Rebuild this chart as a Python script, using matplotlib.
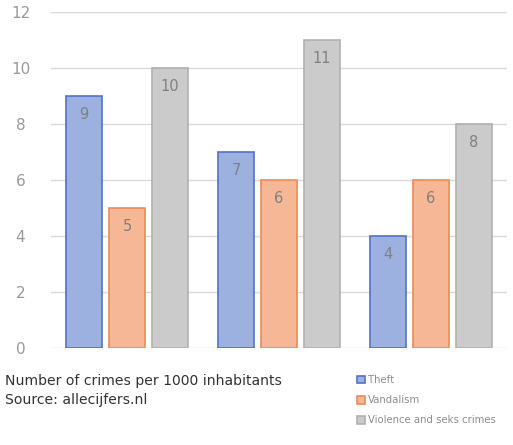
import numpy as np
import matplotlib.pyplot as plt

groups = [0, 1, 2]
theft = [9, 7, 4]
vandalism = [5, 6, 6]
violence = [10, 11, 8]
series_names = ['Theft', 'Vandalism', 'Violence and seks crimes']
yticks = [0, 2, 4, 6, 8, 10, 12]

fills = ['#9db1e0', '#f6b796', '#cbcbcb']
edges = ['#4f74c2', '#ee8a55', '#b0b0b0']

fig = plt.figure(figsize=(5.13, 4.45), dpi=100)
ax = fig.add_axes([51 / 513, 97 / 445, 456 / 513, 336 / 445])

width = 0.235
offset = 0.283
x = np.array(groups)
for i, (vals, name) in enumerate(zip([theft, vandalism, violence], series_names)):
    bars = ax.bar(x + (i - 1) * offset, vals, width, color=fills[i],
                  edgecolor=edges[i], linewidth=1.2, label=name, zorder=3)
    for b, v in zip(bars, vals):
        ax.text(b.get_x() + b.get_width() / 2, v - 0.4, str(v),
                ha='center', va='top', fontsize=10.5, color='#808080', zorder=4)

ax.set_xlim(-0.5, 2.5)
ax.set_ylim(0, 12)
ax.set_yticks(yticks)
ax.set_xticks([])
ax.tick_params(axis='y', length=0, pad=22, labelsize=11, labelcolor='#999999')
for lab in ax.get_yticklabels():
    lab.set_horizontalalignment('center')
ax.grid(axis='y', color='#d9d9d9', linewidth=1, zorder=0)
for s in ax.spines.values():
    s.set_visible(False)

fig.text(5 / 513, 1 - 385 / 445, 'Number of crimes per 1000 inhabitants',
         fontsize=10.1, color='#333333', va='baseline')
fig.text(5 / 513, 1 - 404 / 445, 'Source: allecijfers.nl',
         fontsize=10.1, color='#333333', va='baseline')

leg = fig.legend(loc='upper left', bbox_to_anchor=(348 / 513, 1 - 366 / 445),
                 frameon=False, fontsize=7.3, labelcolor='#8c8c8c',
                 handlelength=0.8, handleheight=0.8, handletextpad=0.3,
                 labelspacing=1.0)

fig.savefig('out.png', dpi=100)
